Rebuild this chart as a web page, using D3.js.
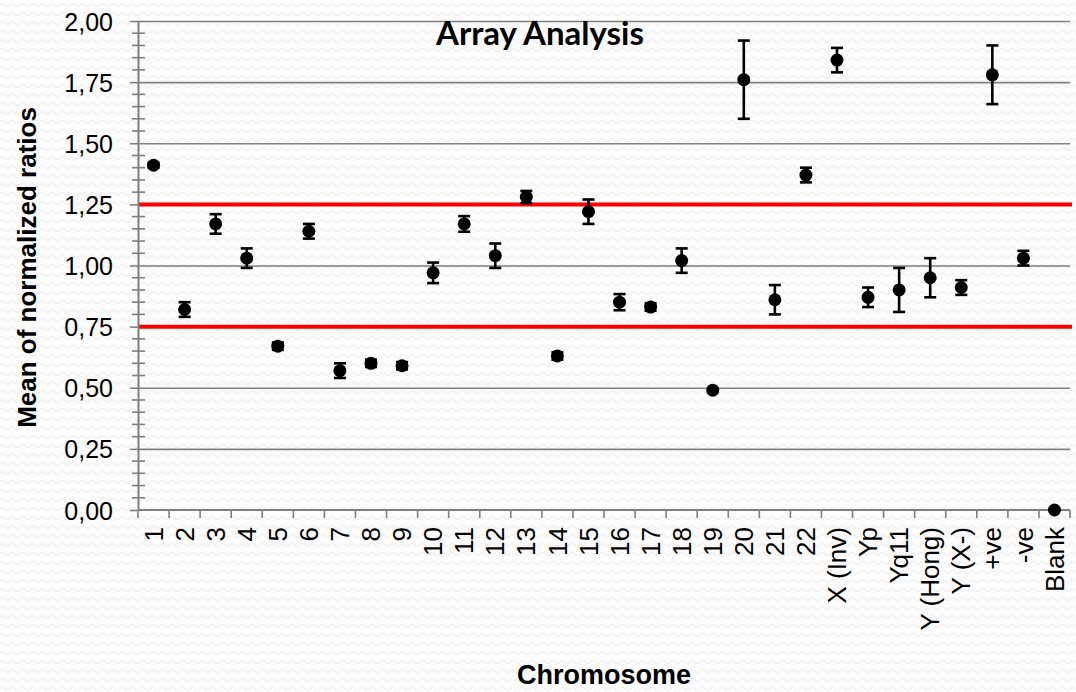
<!DOCTYPE html>
<html>
<head>
<meta charset="utf-8">
<script src="https://cdn.jsdelivr.net/npm/d3@7"></script>
<style>
  body { margin: 0; background: #fff; }
  text { font-family: "Liberation Sans", Arial, sans-serif; fill: #000; }
</style>
</head>
<body>
<script>
// chromosome categories on the x axis
var categories = ["1", "2", "3", "4", "5", "6", "7", "8", "9", "10",
    "11", "12", "13", "14", "15", "16", "17", "18", "19", "20",
    "21", "22", "X (Inv)", "Yp", "Yq11", "Y (Hong)", "Y (X-)", "+ve", "-ve", "Blank"];

// mean of normalized ratios
var means = [1.41, 0.82, 1.17, 1.03, 0.67, 1.14, 0.57, 0.60, 0.59, 0.97,
    1.17, 1.04, 1.28, 0.63, 1.22, 0.85, 0.83, 1.02, 0.49, 1.76,
    0.86, 1.37, 1.84, 0.87, 0.90, 0.95, 0.91, 1.78, 1.03, 0.00];

// error bar half-lengths
var errors = [0.01, 0.03, 0.04, 0.04, 0.015, 0.03, 0.03, 0.015, 0.015, 0.042,
    0.032, 0.05, 0.025, 0.015, 0.05, 0.033, 0.015, 0.05, 0, 0.16,
    0.06, 0.03, 0.05, 0.04, 0.09, 0.08, 0.03, 0.12, 0.03, 0];

var yTicks = [0, 0.25, 0.5, 0.75, 1, 1.25, 1.5, 1.75, 2];
var thresholds = [0.75, 1.25];

setChart();

function setChart(){
    var width = 1076,
        height = 692;

    var left = 138, right = 1070, top = 21, bottom = 510;

    var svg = d3.select("body")
        .append("svg")
        .attr("width", width)
        .attr("height", height);

    //faint wavy background texture
    var defs = svg.append("defs");
    var pat = defs.append("pattern")
        .attr("id", "bg")
        .attr("width", 10)
        .attr("height", 9)
        .attr("patternUnits", "userSpaceOnUse");
    pat.append("rect").attr("width", 10).attr("height", 9).attr("fill", "#fcfcfc");
    pat.append("path")
        .attr("d", "M0,5 Q2.5,2 5,5 T10,5")
        .attr("fill", "none")
        .attr("stroke", "#f0f0f0")
        .attr("stroke-width", 1.2);
    svg.append("rect")
        .attr("width", width)
        .attr("height", height)
        .attr("fill", "url(#bg)");

    var x = d3.scaleBand()
        .domain(categories)
        .range([left, right]);

    var y = d3.scaleLinear()
        .domain([0, 2])
        .range([bottom, top]);

    var comma = function(d){ return d3.format(".2f")(d).replace(".", ","); };

    //gridlines
    svg.append("g")
        .attr("class", "grid")
        .attr("transform", "translate(" + left + ",0)")
        .call(d3.axisLeft(y).tickValues(yTicks.slice(1)).tickSize(-(right - left)).tickFormat(""))
        .call(function(g){
            g.select(".domain").remove();
            g.selectAll("line").attr("stroke", "#808080").attr("stroke-width", 1.6);
        });

    //threshold lines
    svg.selectAll(".threshold")
        .data(thresholds)
        .enter()
        .append("line")
        .attr("class", "threshold")
        .attr("x1", left)
        .attr("x2", right + 2)
        .attr("y1", function(d){ return y(d); })
        .attr("y2", function(d){ return y(d); })
        .attr("stroke", "#ff0000")
        .attr("stroke-width", 4);

    //minor y ticks
    var minor = d3.range(0, 2.001, 0.05).filter(function(v){
        return Math.abs(v * 4 - Math.round(v * 4)) > 0.01;
    });
    svg.selectAll(".minor")
        .data(minor)
        .enter()
        .append("line")
        .attr("class", "minor")
        .attr("x1", left - 6)
        .attr("x2", left + 7)
        .attr("y1", function(d){ return y(d); })
        .attr("y2", function(d){ return y(d); })
        .attr("stroke", "#7f7f7f")
        .attr("stroke-width", 1.6);

    //y axis
    svg.append("g")
        .attr("transform", "translate(" + left + ",0)")
        .call(d3.axisLeft(y).tickValues(yTicks).tickSize(8).tickSizeOuter(0).tickPadding(17).tickFormat(comma))
        .call(function(g){
            g.select(".domain").attr("stroke", "#7f7f7f").attr("stroke-width", 2);
            g.selectAll("line").attr("stroke", "#7f7f7f").attr("stroke-width", 1.6);
            g.selectAll("text")
                .style("font-size", "25px")
                .attr("dy", "0.36em");
        });

    //x axis, ticks on category boundaries
    var xAxis = svg.append("g")
        .attr("transform", "translate(0," + bottom + ")");
    xAxis.append("line")
        .attr("x1", left)
        .attr("x2", right)
        .attr("stroke", "#7f7f7f")
        .attr("stroke-width", 2);
    xAxis.selectAll(".xtick")
        .data(categories.concat(["end"]))
        .enter()
        .append("line")
        .attr("class", "xtick")
        .attr("x1", function(d){ return d === "end" ? right : x(d); })
        .attr("x2", function(d){ return d === "end" ? right : x(d); })
        .attr("y1", 0)
        .attr("y2", 8)
        .attr("stroke", "#7f7f7f")
        .attr("stroke-width", 1.6);
    xAxis.selectAll(".xlabel")
        .data(categories)
        .enter()
        .append("text")
        .attr("class", "xlabel")
        .attr("text-anchor", "end")
        .attr("dy", "0.35em")
        .attr("transform", function(d){
            return "translate(" + (x(d) + x.bandwidth() / 2) + ",17) rotate(-90)";
        })
        .style("font-size", "26px")
        .text(function(d){ return d; });

    //error bars
    var bars = svg.selectAll(".err")
        .data(categories)
        .enter()
        .append("g")
        .attr("class", "err")
        .attr("stroke", "#000")
        .attr("stroke-width", 2.6);
    bars.filter(function(d, i){ return errors[i] > 0; })
        .each(function(d){
            var i = categories.indexOf(d),
                cx = x(d) + x.bandwidth() / 2,
                g = d3.select(this);
            var lo = y(means[i] - errors[i]),
                hi = y(means[i] + errors[i]);
            g.append("line").attr("x1", cx).attr("x2", cx).attr("y1", lo).attr("y2", hi);
            g.append("line").attr("x1", cx - 6).attr("x2", cx + 6).attr("y1", lo).attr("y2", lo);
            g.append("line").attr("x1", cx - 6).attr("x2", cx + 6).attr("y1", hi).attr("y2", hi);
        });

    //points
    svg.selectAll(".pt")
        .data(categories)
        .enter()
        .append("circle")
        .attr("class", "pt")
        .attr("cx", function(d){ return x(d) + x.bandwidth() / 2; })
        .attr("cy", function(d, i){ return y(means[i]); })
        .attr("r", 6.5)
        .attr("fill", "#000");

    //title
    svg.append("text")
        .attr("x", 540)
        .attr("y", 45)
        .attr("text-anchor", "middle")
        .style("font-family", "Lato, 'Open Sans', sans-serif")
        .style("font-weight", "bold")
        .style("font-size", "33px")
        .text("Array Analysis");

    //axis titles
    svg.append("text")
        .attr("x", 604)
        .attr("y", 684)
        .attr("text-anchor", "middle")
        .style("font-weight", "bold")
        .style("font-size", "27px")
        .text("Chromosome");

    svg.append("text")
        .attr("transform", "translate(36," + ((top + bottom) / 2 + 2) + ") rotate(-90)")
        .attr("text-anchor", "middle")
        .style("font-weight", "bold")
        .style("font-size", "26px")
        .text("Mean of normalized ratios");
}
</script>
</body>
</html>
